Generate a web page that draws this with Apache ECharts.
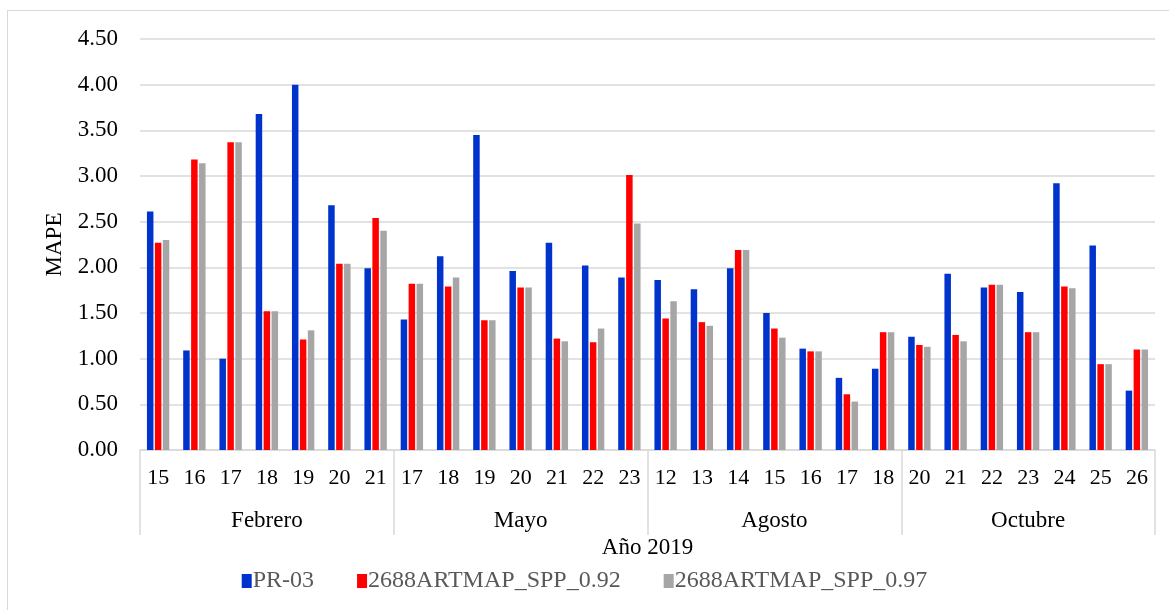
<!DOCTYPE html>
<html>
<head>
<meta charset="utf-8">
<script src="https://cdn.jsdelivr.net/npm/echarts@6/dist/echarts.min.js"></script>
<style>
  html, body { margin: 0; padding: 0; background: #fff; }
  #wrap { position: relative; width: 1169px; height: 610px; overflow: hidden; }
  #frame { position: absolute; left: 7px; top: 10px; width: 1180px; height: 620px; border: 1.5px solid #d9d9d9; box-sizing: border-box; }
  #chart { position: absolute; left: 0; top: 0; width: 1169px; height: 610px; }
</style>
</head>
<body>
<div id="wrap">
  <div id="frame"></div>
  <div id="chart"></div>
</div>
<script>
// dias por mes (eje inferior)
const days = [
  '15', '16', '17', '18', '19', '20', '21',
  '17', '18', '19', '20', '21', '22', '23',
  '12', '13', '14', '15', '16', '17', '18',
  '20', '21', '22', '23', '24', '25', '26'
]
const months = ['Febrero', 'Mayo', 'Agosto', 'Octubre']

const pr03 = [
  2.61, 1.09, 1.00, 3.68, 4.00, 2.68, 1.99,
  1.43, 2.12, 3.45, 1.96, 2.27, 2.02, 1.89,
  1.86, 1.76, 1.99, 1.50, 1.11, 0.79, 0.89,
  1.24, 1.93, 1.78, 1.73, 2.92, 2.24, 0.65
]
const spp092 = [
  2.27, 3.18, 3.37, 1.52, 1.21, 2.04, 2.54,
  1.82, 1.79, 1.42, 1.78, 1.22, 1.18, 3.01,
  1.44, 1.40, 2.19, 1.33, 1.08, 0.61, 1.29,
  1.15, 1.26, 1.81, 1.29, 1.79, 0.94, 1.10
]
const spp097 = [
  2.30, 3.14, 3.37, 1.52, 1.31, 2.04, 2.40,
  1.82, 1.89, 1.42, 1.78, 1.19, 1.33, 2.48,
  1.63, 1.36, 2.19, 1.23, 1.08, 0.53, 1.29,
  1.13, 1.19, 1.81, 1.29, 1.77, 0.94, 1.10
]

const font = 'Liberation Serif, Times New Roman, serif'
const chart = echarts.init(document.getElementById('chart'))

function barSeries(name, data, color) {
  return {
    name,
    type: 'bar',
    data,
    barWidth: 6.5,
    barGap: '22%',
    itemStyle: { color },
    emphasis: { disabled: true }
  }
}

chart.setOption({
  animation: false,
  textStyle: { fontFamily: font },
  grid: { left: 140, right: 14, top: 39, bottom: 160 },
  legend: {
    top: 564,
    left: 'center',
    itemWidth: 10,
    itemHeight: 14,
    itemGap: 43,
    icon: 'rect',
    textStyle: { fontFamily: font, fontSize: 24, color: '#595959', padding: [0, 0, 0, -4] },
    data: ['PR-03', '2688ARTMAP_SPP_0.92', '2688ARTMAP_SPP_0.97']
  },
  xAxis: [
    {
      type: 'category',
      data: days,
      axisLine: { lineStyle: { color: '#d9d9d9', width: 1.5 } },
      axisTick: { show: false },
      axisLabel: { color: '#000', fontSize: 22, fontFamily: font, margin: 17, interval: 0 }
    },
    {
      type: 'category',
      data: months,
      position: 'bottom',
      axisLine: { show: false },
      axisTick: { show: true, length: 85, lineStyle: { color: '#d9d9d9', width: 1.5 } },
      axisLabel: { color: '#000', fontSize: 23, fontFamily: font, margin: 59, interval: 0 },
      name: 'Año 2019',
      nameLocation: 'middle',
      nameGap: 85,
      nameTextStyle: { color: '#000', fontSize: 23, fontFamily: font }
    }
  ],
  yAxis: {
    type: 'value',
    min: 0,
    max: 4.5,
    interval: 0.5,
    name: 'MAPE',
    nameLocation: 'middle',
    nameGap: 67,
    nameTextStyle: { color: '#000', fontSize: 23, fontFamily: font },
    axisLine: { show: false },
    axisTick: { show: false },
    axisLabel: { color: '#000', fontSize: 23, fontFamily: font, margin: 22, formatter: v => v.toFixed(2) },
    splitLine: { lineStyle: { color: '#d9d9d9', width: 1.5 } }
  },
  series: [
    barSeries('PR-03', pr03, '#0033cc'),
    barSeries('2688ARTMAP_SPP_0.92', spp092, '#ff0000'),
    barSeries('2688ARTMAP_SPP_0.97', spp097, '#a6a6a6')
  ]
})
</script>
</body>
</html>
